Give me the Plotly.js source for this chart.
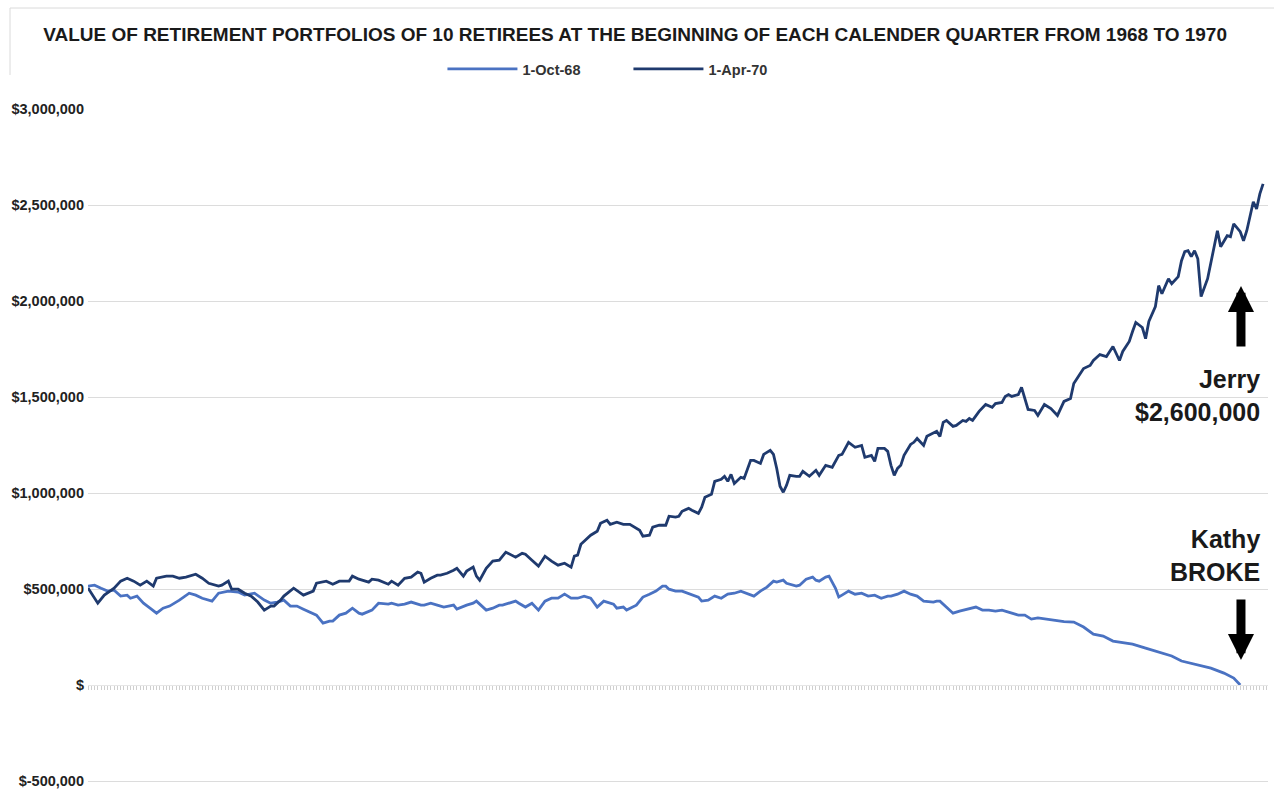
<!DOCTYPE html>
<html>
<head>
<meta charset="utf-8">
<script src="https://cdn.plot.ly/plotly-3.0.1.min.js"></script>
<style>
html,body{margin:0;padding:0;background:#fff;}
#chart{width:1274px;height:789px;}
</style>
</head>
<body>
<div id="chart"></div>
<script>
// Series: month index since start (x) and portfolio value in thousands of dollars (y)
const seriesNames = ["1-Oct-68", "1-Apr-70"];

const octMonths = [0,2,4,6,8,10,12,13,15,17,19,21,23,25,28,31,33,35,38,40,43,46,48,51,54,56,58,60,62,64,66,70,72,74,75,77,79,81,83,84,87,89,92,93,95,97,99,102,103,105,107,109,112,113,116,118,119,122,124,126,127,129,131,132,134,136,138,140,142,144,146,148,150,152,154,156,158,161,162,164,165,168,170,172,174,176,177,178,180,182,185,187,188,190,192,194,196,198,200,202,204,206,208,210,211,213,214,217,218,220,222,223,224,226,227,229,230,231,233,235,237,239,241,243,245,246,248,250,252,254,256,259,260,261,263,265,267,269,272,274,276,278,280,282,285,287,289,291,294,296,299,302,305,308,311,314,316,320,324,328,332,335,340,344,348,351,353];
const octValuesK = [515,520,504,489,494,463,468,452,463,426,400,374,400,411,442,478,468,452,437,478,489,484,468,478,442,426,432,442,411,411,395,364,322,333,333,364,374,400,374,369,390,426,421,426,416,421,432,416,416,426,416,406,416,395,416,426,437,390,400,416,416,426,437,426,406,426,390,437,452,452,473,452,452,463,452,406,437,421,400,406,390,416,458,473,489,515,515,499,489,489,468,458,437,442,463,452,473,478,489,478,463,489,510,541,536,546,530,515,520,551,562,546,541,562,567,504,458,468,489,473,478,463,468,452,463,463,473,489,473,463,437,432,437,437,406,374,385,395,406,390,390,385,390,380,364,364,343,350,343,338,330,328,302,265,255,229,224,213,192,172,151,125,104,88,62,36,0];

const aprMonths = [0,3,5,8,10,12,14,16,18,20,21,24,26,28,30,33,35,37,40,41,43,44,46,48,50,52,54,56,57,59,60,63,66,69,70,73,75,77,80,81,83,85,86,87,89,92,93,95,97,99,101,102,103,105,107,108,110,112,113,115,116,118,119,120,122,124,126,128,131,133,134,136,138,140,142,144,146,148,149,150,151,152,154,156,157,159,160,162,164,166,168,169,170,172,173,175,177,178,180,181,182,184,185,187,188,189,191,192,194,195,196,197,198,200,201,203,204,206,207,209,210,211,212,213,214,215,217,218,219,221,223,224,226,228,230,231,233,235,237,238,240,241,242,244,245,246,247,248,249,250,252,253,254,256,257,258,260,261,262,263,265,266,268,269,270,271,273,275,277,278,280,281,282,283,285,286,288,290,291,293,295,297,299,301,302,304,305,307,308,310,312,314,316,317,319,320,321,323,324,325,327,328,329,331,332,334,335,336,337,338,339,340,341,343,344,346,347,349,350,351,353,354,355,357,358,359,360];
const aprValuesK = [505,426,468,504,541,556,541,520,541,515,556,567,567,556,562,577,556,530,515,520,541,499,499,478,463,432,390,411,411,442,463,504,468,489,530,541,525,541,541,567,551,541,536,551,546,525,541,520,556,562,588,582,536,556,572,572,582,598,608,567,593,614,567,546,608,645,650,692,666,686,681,650,619,671,645,624,634,614,671,676,733,749,780,801,842,858,837,848,837,837,816,806,775,780,822,832,832,879,874,879,905,920,910,894,926,978,993,1061,1071,1087,1061,1097,1050,1082,1076,1170,1170,1154,1201,1222,1201,1128,1035,1004,1040,1092,1087,1087,1113,1087,1118,1092,1144,1134,1196,1201,1264,1238,1248,1186,1196,1165,1232,1232,1217,1144,1092,1128,1144,1196,1253,1264,1284,1248,1295,1305,1321,1295,1368,1378,1347,1352,1378,1373,1388,1378,1425,1461,1446,1466,1472,1503,1513,1503,1513,1550,1435,1430,1404,1461,1440,1404,1477,1492,1570,1622,1648,1664,1690,1721,1711,1763,1690,1737,1789,1841,1888,1862,1804,1893,1971,2080,2038,2116,2090,2127,2210,2257,2262,2231,2262,2220,2023,2116,2205,2366,2283,2340,2335,2402,2361,2314,2366,2517,2480,2558,2610];

const yTickVals = [-500000,0,500000,1000000,1500000,2000000,2500000,3000000];
const yTickText = ["$-500,000","$","$500,000","$1,000,000","$1,500,000","$2,000,000","$2,500,000","$3,000,000"];

const titleText = "VALUE OF RETIREMENT PORTFOLIOS OF 10 RETIREES AT THE BEGINNING OF EACH CALENDER QUARTER FROM 1968 TO 1970";
const noteJerry = "Jerry<br>$2,600,000";
const noteKathy = "Kathy<br>BROKE";

const FONT = "Liberation Sans, Arial, sans-serif";
const Y_MIN = -520833, Y_MAX = 3000000;

const traces = [
  {x: octMonths, y: octValuesK.map(v => v * 1000), name: seriesNames[0], type: "scatter", mode: "lines",
   line: {color: "#4a72c2", width: 2.8}},
  {x: aprMonths, y: aprValuesK.map(v => v * 1000), name: seriesNames[1], type: "scatter", mode: "lines",
   line: {color: "#1f3a6e", width: 2.8}}
];

const layout = {
  width: 1274, height: 789,
  margin: {l: 88, r: 6, t: 109, b: 4},
  paper_bgcolor: "#ffffff", plot_bgcolor: "#ffffff",
  font: {family: FONT, color: "#222"},
  title: {text: titleText, x: 0.4985, xref: "container", y: 0.956, yref: "container", yanchor: "middle", xanchor: "center",
          font: {family: FONT, size: 19, weight: 700, color: "#1a1a1a"}},
  showlegend: true,
  legend: {orientation: "h", x: 0.458, xanchor: "center", y: 1.0592, yanchor: "middle",
           font: {family: FONT, size: 14.5, weight: 700, color: "#333"}, itemwidth: 70, entrywidth: 101,
           bgcolor: "rgba(0,0,0,0)"},
  xaxis: {range: [0, 361.5], anchor: "free", position: (0 - Y_MIN) / (Y_MAX - Y_MIN), showgrid: false, zeroline: false,
          showline: true, linecolor: "#e6e6e6", linewidth: 1,
          ticks: "outside", tickmode: "linear", tick0: 0, dtick: 1, ticklen: 4, tickcolor: "#cfcfcf", tickwidth: 1,
          showticklabels: false, fixedrange: true},
  yaxis: {range: [Y_MIN, Y_MAX], tickmode: "array", tickvals: yTickVals, ticktext: yTickText,
          showgrid: true, gridcolor: "#dcdcdc", gridwidth: 1, zeroline: false, showline: false,
          ticks: "", ticklabelstandoff: 3, ticklabeloverflow: "allow",
          tickfont: {family: FONT, size: 14.5, weight: 700, color: "#222"}},
  shapes: [
    {type: "line", xref: "paper", yref: "paper", x0: -0.0661, x1: 1.006, y0: 1.1494, y1: 1.1494,
     line: {color: "#dadada", width: 1}},
    {type: "line", xref: "paper", yref: "paper", x0: -0.0661, x1: -0.0661, y0: 1.1494, y1: 1.0503,
     line: {color: "#dadada", width: 1}}
  ],
  annotations: [
    {xref: "paper", yref: "paper", x: 0.995, y: 0.5769, xanchor: "right", yanchor: "middle", align: "right",
     text: noteJerry, showarrow: false, font: {family: FONT, size: 25, weight: 700, color: "#1a1a1a"}},
    {xref: "paper", yref: "paper", x: 0.995, y: 0.3388, xanchor: "right", yanchor: "middle", align: "right",
     text: noteKathy, showarrow: false, font: {family: FONT, size: 25, weight: 700, color: "#1a1a1a"}},
    {xref: "paper", yref: "paper", x: 0.9771, y: 0.7382, text: "", showarrow: true, ax: 0, ay: 62,
     arrowhead: 2, arrowwidth: 9, arrowsize: 0.58, arrowcolor: "#000"},
    {xref: "paper", yref: "paper", x: 0.9771, y: 0.1849, text: "", showarrow: true, ax: 0, ay: -62,
     arrowhead: 2, arrowwidth: 9, arrowsize: 0.58, arrowcolor: "#000"}
  ]
};

Plotly.newPlot("chart", traces, layout, {displayModeBar: false, staticPlot: true});
</script>
</body>
</html>
